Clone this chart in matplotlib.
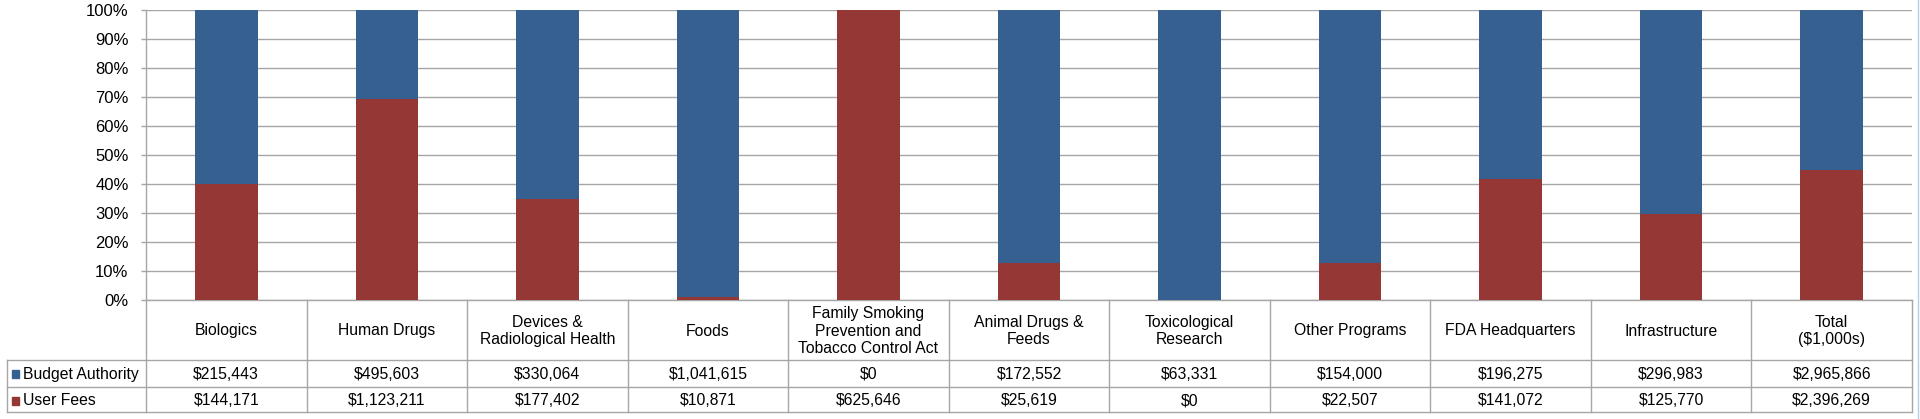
import matplotlib
matplotlib.use("Agg")
import matplotlib.pyplot as plt
from matplotlib.transforms import blended_transform_factory
from matplotlib.patches import Rectangle
from matplotlib.ticker import PercentFormatter, MultipleLocator

categories = ["Biologics", "Human Drugs", "Devices &\nRadiological Health", "Foods",
              "Family Smoking\nPrevention and\nTobacco Control Act", "Animal Drugs &\nFeeds",
              "Toxicological\nResearch", "Other Programs", "FDA Headquarters",
              "Infrastructure", "Total\n($1,000s)"]
budget_authority = [215443, 495603, 330064, 1041615, 0, 172552, 63331, 154000,
                    196275, 296983, 2965866]
user_fees = [144171, 1123211, 177402, 10871, 625646, 25619, 0, 22507,
             141072, 125770, 2396269]
series_names = ["Budget Authority", "User Fees"]

BLUE = "#36608f"
RED = "#953735"
GRID = "#a6a6a6"
W, H = 1920, 419

plt.rcParams['font.family'] = ['Liberation Sans', 'DejaVu Sans']
plt.rcParams['font.size'] = 11.3

fig = plt.figure(figsize=(W / 100, H / 100), dpi=100)
ax = fig.add_axes([146 / W, 1 - 300 / H, (1912 - 146) / W, 290 / H])

def fy(py):
	return 1 - py / H

n = len(categories)
x = [i + 0.5 for i in range(n)]
tot = [b + u for b, u in zip(budget_authority, user_fees)]
uf_pct = [u / t for u, t in zip(user_fees, tot)]
ba_pct = [b / t for b, t in zip(budget_authority, tot)]

ax.bar(x, uf_pct, 0.39, color=RED, zorder=3)
ax.bar(x, ba_pct, 0.39, bottom=uf_pct, color=BLUE, zorder=3)

ax.set_xlim(0, n)
ax.set_ylim(0, 1)
ax.yaxis.set_major_locator(MultipleLocator(0.1))
ax.yaxis.set_major_formatter(PercentFormatter(1.0, decimals=0))
ax.yaxis.grid(True, color=GRID, lw=1)
ax.set_axisbelow(True)
ax.set_xticks([])
ax.tick_params(axis='y', length=3.6, width=1, color=GRID, pad=9, labelsize=12)
for s in ("top", "right"):
	ax.spines[s].set_visible(False)
for s in ("left", "bottom"):
	ax.spines[s].set_color(GRID)
	ax.spines[s].set_linewidth(1)

# data table under the plot
trans = blended_transform_factory(ax.transData, fig.transFigure)
xl = -139 / 160.5
kw = dict(color=GRID, lw=1, transform=trans, clip_on=False)
for py in (360, 387, 412):
	ax.plot([xl, n], [fy(py), fy(py)], **kw)
for i in range(n + 1):
	ax.plot([i, i], [fy(300), fy(412)], **kw)
ax.plot([xl, xl], [fy(360), fy(412)], **kw)

for i in range(n):
	ax.text(x[i], fy(331), categories[i], transform=trans, ha="center", va="center",
			multialignment="center", linespacing=1.2, parse_math=False)
	ax.text(x[i], fy(374), "${:,}".format(budget_authority[i]), transform=trans,
			ha="center", va="center", parse_math=False)
	ax.text(x[i], fy(400.5), "${:,}".format(user_fees[i]), transform=trans,
			ha="center", va="center", parse_math=False)

for name, col, py in zip(series_names, (BLUE, RED), (374, 400.5)):
	fig.add_artist(Rectangle((12 / W, fy(py + 4)), 7 / W, 8 / H, color=col,
				transform=fig.transFigure))
	fig.text(23 / W, fy(py), name, ha="left", va="center")

fig.add_artist(plt.Line2D([1918 / W, 1918 / W], [0, 1], color="#b7cde3", lw=1,
			transform=fig.transFigure))

fig.savefig("out.png", dpi=100)
